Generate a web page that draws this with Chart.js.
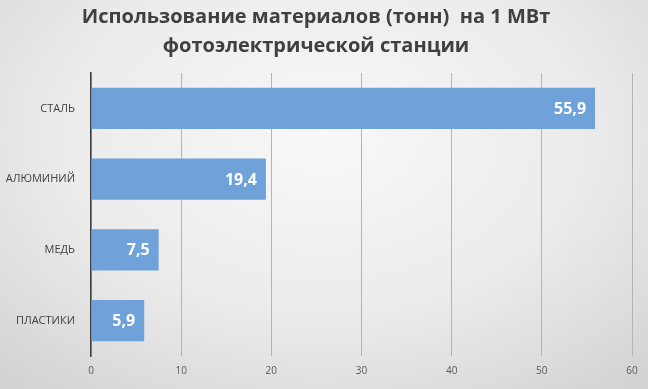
<!DOCTYPE html>
<html>
<head>
<meta charset="utf-8">
<script src="https://cdn.jsdelivr.net/npm/chart.js@4/dist/chart.umd.min.js"></script>
<style>
  html, body { margin: 0; padding: 0; }
  body {
    width: 648px; height: 389px; overflow: hidden;
    background: radial-gradient(ellipse 75% 85% at 50% 35%, #f8f8f8 0%, #ebebeb 55%, #d2d2d2 100%);
  }
  #wrap { position: relative; width: 648px; height: 389px; }
</style>
</head>
<body>
<div id="wrap"><canvas id="c" width="648" height="389"></canvas></div>
<script>
const titleLines = ['Использование материалов (тонн)  на 1 МВт', 'фотоэлектрической станции'];
const categories = ['СТАЛЬ', 'АЛЮМИНИЙ', 'МЕДЬ', 'ПЛАСТИКИ'];
const values = [55.9, 19.4, 7.5, 5.9];
const axisMin = 0;
const axisMax = 60;
const axisStep = 10;

const fmt = v => v.toFixed(1).replace('.', ',');

const labelPlugin = {
  id: 'valueLabels',
  afterDatasetsDraw(chart) {
    const ctx = chart.ctx;
    const meta = chart.getDatasetMeta(0);
    ctx.save();
    ctx.font = 'bold 16px "Open Sans", sans-serif';
    ctx.fillStyle = '#ffffff';
    ctx.textAlign = 'right';
    ctx.textBaseline = 'middle';
    meta.data.forEach((el, i) => {
      ctx.fillText(fmt(values[i]), el.x - 9, el.y + 1);
    });
    ctx.restore();
  }
};

new Chart(document.getElementById('c'), {
  type: 'bar',
  data: {
    labels: categories,
    datasets: [{
      data: values,
      backgroundColor: '#6ea2d8',
      borderWidth: 0,
      categoryPercentage: 1,
      barPercentage: 0.58
    }]
  },
  options: {
    indexAxis: 'y',
    responsive: false,
    animation: false,
    devicePixelRatio: 1,
    layout: { padding: { left: 0, right: 16, top: 3, bottom: 3 } },
    plugins: {
      legend: { display: false },
      tooltip: { enabled: false },
      title: {
        display: true,
        text: titleLines,
        color: '#404040',
        font: { family: '"Open Sans", sans-serif', size: 20, weight: 'bold', lineHeight: 1.45 },
        padding: { top: 0, bottom: 12 }
      }
    },
    scales: {
      x: {
        min: axisMin, max: axisMax,
        ticks: { stepSize: axisStep, color: '#595959', font: { family: '"Open Sans", sans-serif', size: 10 }, padding: 9 },
        grid: { color: '#b4b4b4', lineWidth: 1, drawTicks: false },
        border: { display: false }
      },
      y: {
        ticks: { color: '#404040', font: { family: '"Open Sans", sans-serif', size: 11 }, padding: 16 },
        grid: { display: false, drawTicks: false },
        border: { display: true, color: '#404040', width: 1.5 },
        afterFit(s) { s.width = 91; }
      }
    }
  },
  plugins: [labelPlugin]
});
</script>
</body>
</html>
